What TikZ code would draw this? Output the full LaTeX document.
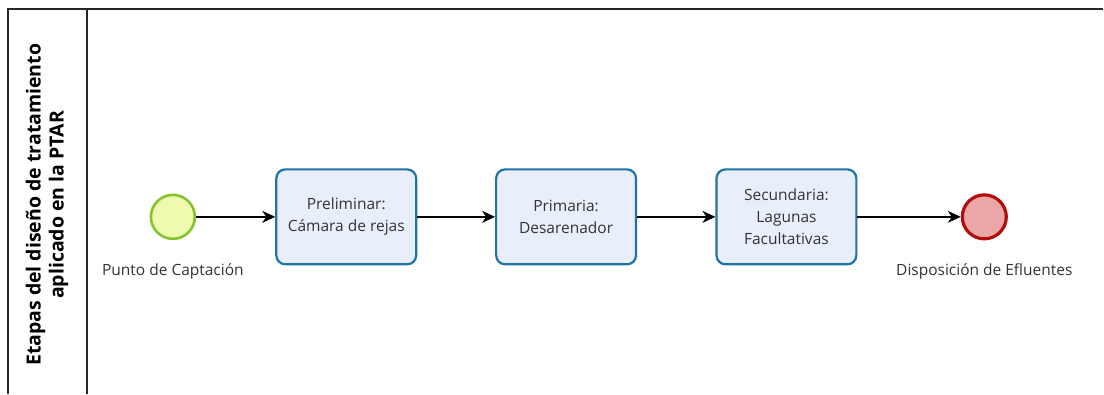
\documentclass[tikz,border=0pt]{standalone}
\usepackage{fontspec}
\setmainfont{Open Sans}
\usepackage{tikz}
\usetikzlibrary{arrows.meta}
\usetikzlibrary{positioning}
\definecolor{startfill}{HTML}{EEFAB0}
\definecolor{startline}{HTML}{86C232}
\definecolor{endfill}{HTML}{EBA6A8}
\definecolor{endline}{HTML}{B20D0D}
\definecolor{taskfill}{HTML}{E9EEFB}
\definecolor{taskline}{HTML}{1E73A8}
\definecolor{textgray}{HTML}{333333}

\begin{document}
\begin{tikzpicture}[
    x=1pt, y=-1pt,
    % evento de inicio
    start style/.style={
        circle,                   % circulo
        draw=startline,           % borde verde
        fill=startfill,           % relleno
        line width=2.6pt,
        minimum size=44pt,
        inner sep=0pt
    },
    % evento de fin
    end style/.style={
        circle,
        draw=endline,
        fill=endfill,
        line width=3.2pt,
        minimum size=44pt,
        inner sep=0pt
    },
    % tarea
    task style/.style={
        rectangle,                % rectangulo
        rounded corners=9pt,      % esquinas redondeadas
        draw=taskline,
        fill=taskfill,
        line width=2.2pt,
        minimum width=140pt,
        minimum height=95pt,
        align=center,
        text=textgray,
        font=\fontsize{15.5}{22}\selectfont
    },
    % etiqueta bajo los eventos
    label style/.style={
        text=textgray,
        font=\fontsize{15.5}{22}\selectfont
    },
    % flujo
    flow/.style={
        draw,
        line width=1.3pt,
        -{Stealth[length=13pt,width=12pt,inset=4pt]}
    }
]

% carril
\draw[line width=1.6pt, draw=black!85] (1104,9) -- (8,9) -- (8,394);
\draw[line width=1.6pt, draw=black!85] (87,9) -- (87,394);
\node[rotate=90, align=center, font=\fontsize{19.5}{23}\selectfont\bfseries] (lane) at (47,205)
    {Etapas del diseño de tratamiento\\aplicado en la PTAR};

% nodos
\node[start style] (inicio) at (173,217) {};
\node[task style] (prelim) at (346.5,217) {Preliminar:\\Cámara de rejas};
\node[task style] (prim) at (566.5,217) {Primaria:\\Desarenador};
\node[task style] (sec) at (787,217) {Secundaria:\\Lagunas\\Facultativas};
\node[end style] (fin) at (985,217) {};

% etiquetas
\node[label style] (inicio label) at (173,272) {Punto de Captación};
\node[label style] (fin label) at (985,272) {Disposición de Efluentes};

% conectores
\draw[flow] (inicio) -- (prelim);
\draw[flow] (prelim) -- (prim);
\draw[flow] (prim) -- (sec);
\draw[flow] (sec) -- (fin);

\useasboundingbox (0,0) rectangle (1104,394);
\end{tikzpicture}
\end{document}
